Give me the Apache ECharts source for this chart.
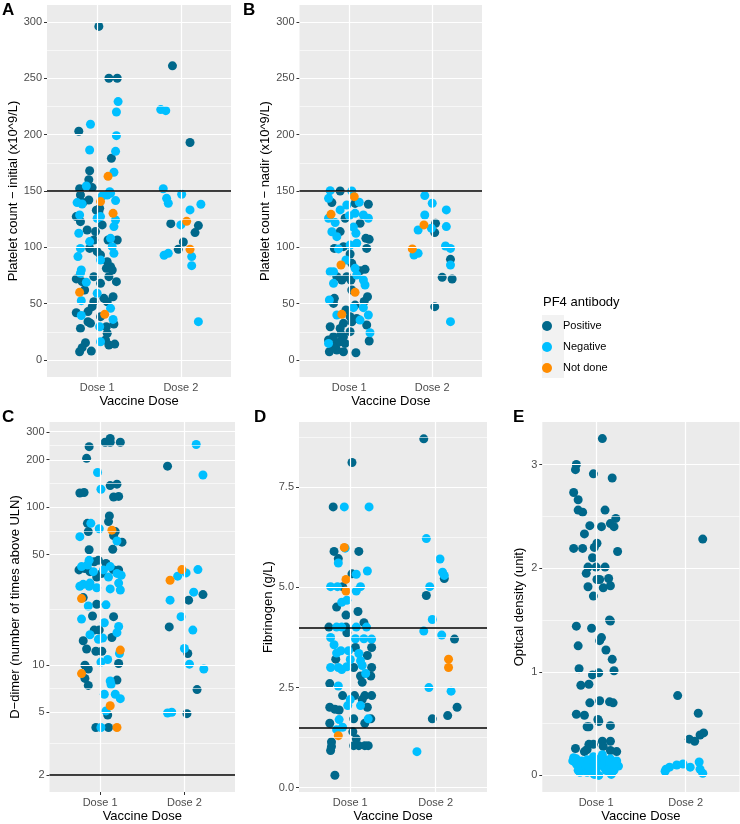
<!DOCTYPE html>
<html><head><meta charset="utf-8">
<script src="https://cdn.jsdelivr.net/npm/echarts@6/dist/echarts.min.js"></script>
<style>html,body{margin:0;padding:0;background:#fff}#c{width:740px;height:824px}</style>
</head><body><div id="c"></div>
<script>
// ---------- shared ----------
const doseLabels = ['Dose 1', 'Dose 2'];
const groups = ['Positive', 'Negative', 'Not done'];
const groupColors = ['#00688B', '#00BFFF', '#FF8C00'];

// ---------- Panel A: platelet count initial ----------
const aPositive = [[1.02,296],[1.90,261],[1.14,250],[1.24,250],[0.78,203],[2.11,193],[1.17,179],[0.91,168],[0.90,160],[0.79,152],[0.94,153],
 [0.80,146.5],[0.83,139.7],[0.90,142],[0.99,133],[1.03,134.6],[0.75,127.3],[0.80,122.8],[1.02,131.7],[0.88,115.4],[0.98,114],[1.06,119.9],[0.96,106.5],[1.13,106.5],[1.24,106.5],[0.91,99.1],[1.00,96.2],[1.04,93.2],[1.12,87.3],[1.16,82.9],[1.11,81.4],[1.18,79.9],[1.14,74],[0.75,72],[0.82,69.6],[0.96,74],[0.85,62.2],[1.04,68.1],[1.23,69.6],[1.08,54.8],[1.19,56.2],[1.12,51.8],[0.75,42],[0.89,43],[0.94,47.4],[0.96,51.8],[0.92,32.6],[1.04,38.5],[1.20,32],[0.80,28.1],[1.11,29.6],[1.12,23.7],[1.10,17.8],[1.14,13.4],[1.21,14.2],[0.86,15.4],[0.82,11],[0.79,7.4],[0.93,8],[0.89,34],
 [1.88,121],[2.21,119.3],[2.17,113.1],[2.03,104.8],[1.97,98.3]];
const aNegative = [[1.25,229.3],[1.23,220.1],[1.76,222.2],[1.82,221.3],[0.92,209.2],[1.23,199.1],[0.91,186.4],[1.22,185.2],[1.20,166.6],[0.87,154.4],[1.15,149.4],[1.79,152],
 [0.76,139.7],[0.82,138.5],[0.79,128.7],[1.06,145.6],[1.12,146.5],[1.16,148],[1.22,141.5],[1.04,127.3],[1.22,124.3],[0.78,112.5],[1.00,125.8],[1.20,118.4],[0.91,105.1],[1.16,108],[0.80,99.1],[0.77,91.8],[1.04,88.8],[1.18,100.6],[1.20,94.7],[0.81,79.9],[0.80,77],[0.87,69],[1.00,59.2],[0.81,52.7],[1.16,45.9],[0.81,39.6],[1.19,36.1],[1.03,29.6],[1.04,16.3],
 [1.83,143.5],[1.85,139.1],[2.01,147.1],[2.24,138.2],[2.11,133.2],[2.00,119.9],[1.85,94.7],[1.80,93],[2.13,91.8],[2.13,83.8],[2.21,34.1]];
const aNotDone = [[1.13,163],[1.04,140.6],[1.19,130.2],[0.79,60.1],[1.09,40.6],[2.07,123.1],[2.11,98.3]];
const aTicks = [0,50,100,150,200,250,300];
const aMinor = [25,75,125,175,225,275];
const aRefs = [150];

// ---------- Panel B: platelet count nadir ----------
const bPositive = [[0.89,150],[0.79,139.7],[1.07,139],[1.23,138.2],[0.95,125.8],[1.13,121.3],[0.89,114],[1.20,108],[1.24,107.1],[1.21,99.1],[0.82,99.1],[0.93,100.6],[1.01,94.1],[1.03,85.8],[0.85,74],[0.91,71],[0.97,74],[1.02,71],[1.13,79.3],[1.19,80.5],[1.03,62.2],[0.82,54.8],[1.22,56.2],[1.18,52],[0.81,50.3],[1.07,48.8],[0.96,44.4],[1.01,38.5],[1.09,37],[0.77,29.6],[0.93,32.6],[1.03,34],[1.21,31.1],[0.89,28.1],[1.01,25.2],[0.75,17.8],[0.81,20.8],[0.85,14.8],[0.93,20.8],[0.89,16.3],[1.24,16.9],[0.76,7.4],[0.93,7.4],[0.85,8.9],[1.08,6.5],[0.95,14.8],[0.80,12],[0.90,23],
 [2.04,121.3],[2.03,113.1],[2.22,89.4],[2.12,73.4],[2.24,71.9],[2.03,47.4]];
const bNegative = [[0.77,150.3],[1.03,150],[0.75,143.5],[0.89,133.2],[0.97,137.6],[0.75,125.8],[1.07,130.2],[1.17,128.7],[1.23,125.8],[0.79,113.9],[0.85,109.5],[1.08,112.5],[0.87,98.6],[1.01,102.1],[1.09,103.6],[0.96,88.8],[0.77,78.4],[0.81,78.4],[1.07,81.4],[1.09,75.5],[1.17,71],[0.81,68.1],[1.19,66.6],[0.76,53.3],[1.05,46.5],[1.17,46.5],[0.85,40],[1.23,40],[1.13,35.5],[1.25,24.3],[0.75,14.8],[1.00,128],[0.83,122],[1.05,118],[1.12,140],
 [1.91,145.9],[2.00,139.1],[2.17,133.2],[1.91,128.7],[1.83,115.4],[2.17,118.4],[1.99,117],[1.78,93.2],[1.83,94.7],[2.16,101.2],[2.22,99.1],[2.22,84.4],[2.22,34.1]];
const bNotDone = [[1.06,145],[0.78,129.3],[0.90,84.4],[1.07,60.1],[0.91,40.6],[1.90,119.9],[1.76,98.6]];
const bTicks = [0,50,100,150,200,250,300];
const bMinor = [25,75,125,175,225,275];
const bRefs = [150];

// ---------- Panel C: D-dimer (log scale) ----------
const cPositive = [[0.87,242],[1.12,273],[1.06,258],[1.12,258],[1.24,258],[0.84,204],[1.12,137],[1.20,140],[0.76,123],[0.81,124],[1.16,116],[1.22,117],[1.11,88],[1.10,81],[0.85,79],[0.86,70],[1.18,70],[1.16,66],[1.26,60],[1.15,54],[0.87,53.7],
 [0.75,40],[0.82,40.8],[0.88,39],[0.93,45],[0.98,46],[1.07,44],[1.16,40],[1.22,40],[1.02,38],[0.96,36],
 [0.80,26.7],[0.96,24.2],[1.16,20.2],[0.91,20.4],[0.93,16.6],[0.99,16.6],[1.14,14.9],[0.80,14.2],[0.84,12.6],[0.95,12.2],[1.02,12.2],[1.22,10.2],[0.82,9.95],[0.86,9.4],[0.82,8.2],[0.86,7.4],[1.20,8.0],[1.09,4.8],[0.95,4.0],[1.10,4.0],
 [1.80,182],[2.22,27.9],[2.05,25.7],[1.82,17.4],[2.04,11.8],[2.15,6.96],[2.03,4.9]];
const cNegative = [[0.97,166],[1.01,130],[0.89,79],[0.99,73],[0.76,65],[1.20,61],
 [0.78,42],[0.85,43],[0.87,46],[0.92,39],[1.04,40],[1.12,42],[1.20,38],[1.25,37],[1.10,36],[0.80,32.4],[0.88,33],
 [0.76,31.5],[0.87,31.5],[0.96,30.8],[1.12,30.3],[1.24,29.8],[1.22,33],[0.86,23.6],[1.07,24],[0.78,19.5],[1.05,18.5],[1.22,17.5],[0.88,15.5],[0.98,14.5],[1.03,14.8],[1.20,16],[1.23,11.8],[1.01,10.4],[1.09,10.8],[1.12,7.9],[1.13,7.5],[1.05,6.5],[1.18,6.5],[1.24,6.1],[1.07,5.1],[1.01,4.0],
 [2.14,250],[2.22,160],[1.92,36.5],[2.02,38.3],[2.16,40.2],[2.11,28.9],[1.83,25.7],[1.96,20.2],[2.10,16.6],[2.00,12.7],[2.06,10.1],[2.23,9.4],[1.80,4.95],[1.85,5.0]];
const cNotDone = [[1.14,71.5],[1.83,34.4],[1.97,40.2],[0.78,26.3],[1.24,12.4],[0.78,8.8],[1.12,5.5],[1.20,4.0]];
const cTicks = [2,5,10,50,100,200,300];
const cMinor = [3.16,7.07,22.4,70.7,141,245];
const cRefs = [2];

// ---------- Panel D: fibrinogen ----------
const dPositive = [[1.86,8.71],[1.02,8.12],[0.80,7.01],[0.81,5.90],[1.10,5.90],[0.86,5.72],[1.02,5.34],[2.10,5.22],[0.91,5.02],[1.89,4.80],[0.84,4.51],[0.95,4.31],[1.09,4.40],[1.16,4.12],[0.75,4.01],[0.95,4.01],[2.22,3.71],[0.96,3.87],[1.06,3.50],[1.25,3.50],[0.83,3.21],[1.20,3.30],[1.04,3.0],[1.25,3.0],[1.12,2.79],[1.24,2.79],[1.14,2.63],[0.76,2.60],[0.91,2.30],[1.05,2.30],[1.17,2.30],[1.25,2.30],[0.76,2.01],[1.20,2.01],[2.25,2.01],[0.87,1.94],[2.14,1.80],[1.96,1.72],[1.04,1.72],[1.24,1.72],[0.76,1.61],[1.17,1.61],[1.03,1.40],[1.07,1.22],[0.78,1.14],[0.78,1.03],[0.77,0.93],[1.04,1.05],[1.10,1.05],[1.17,1.05],[1.21,1.05],[0.82,0.31],[1.14,2.2],[0.82,1.96]];
const dNegative = [[0.93,7.01],[1.22,7.01],[1.89,6.22],[0.94,5.98],[0.86,5.61],[2.05,5.71],[1.07,5.33],[1.20,5.41],[2.08,5.38],[2.10,5.30],[0.77,5.02],[0.85,5.02],[1.12,5.02],[1.07,4.91],[1.93,5.02],[0.90,4.63],[0.96,4.68],[1.96,4.20],[0.84,4.01],[0.90,4.01],[1.07,4.01],[1.19,4.01],[1.86,3.91],[2.07,3.81],[0.77,3.75],[1.06,3.72],[1.16,3.72],[1.25,3.71],[0.81,3.57],[0.89,3.42],[0.98,3.42],[0.84,3.36],[1.10,3.35],[1.00,3.20],[1.12,3.17],[0.77,3.00],[0.86,3.00],[0.96,3.02],[1.14,3.05],[0.90,2.95],[0.86,2.54],[1.92,2.50],[2.18,2.41],[0.97,2.05],[1.12,2.05],[0.87,1.70],[1.21,1.72],[0.91,1.51],[0.84,1.45],[1.78,0.90],[1.00,2.2],[1.18,2.85]];
const dNotDone = [[0.93,6.0],[0.95,5.2],[0.95,4.91],[2.15,3.21],[2.15,3.00],[0.86,1.30]];
const dTicks = [0,2.5,5,7.5];
const dMinor = [1.25,3.75,6.25,8.75];
const dRefs = [4,1.5];

// ---------- Panel E: optical density ----------
const ePositive = [[1.07,3.25],[0.78,3.0],[0.77,2.95],[0.97,2.91],[1.18,2.87],[0.75,2.73],[0.80,2.66],[0.80,2.56],[0.85,2.54],[1.10,2.56],[1.22,2.48],[1.16,2.43],[1.20,2.40],[0.93,2.41],[1.06,2.40],[0.87,2.33],[0.75,2.19],[0.85,2.19],[1.01,2.24],[0.98,2.20],[1.24,2.16],[0.96,2.10],[0.91,2.01],[1.00,2.01],[1.10,2.01],[0.89,1.95],[1.01,1.89],[1.04,1.89],[1.14,1.90],[0.91,1.82],[1.08,1.81],[1.16,1.83],[0.97,1.73],
 [0.78,1.44],[0.95,1.42],[1.15,1.50],[1.16,1.49],[1.06,1.33],[1.04,1.30],[0.80,1.25],[1.11,1.21],[1.18,1.12],[0.81,1.03],[1.20,1.01],[1.03,0.99],[0.96,0.97],[0.83,0.87],[0.92,0.88],[0.93,0.70],[1.04,0.72],[1.15,0.71],[1.19,0.70],[0.78,0.59],[0.87,0.58],[1.02,0.54],[1.03,0.52],[0.90,0.47],[0.92,0.47],[1.16,0.48],[0.92,0.30],[1.07,0.33],[1.16,0.33],[0.77,0.26],[0.87,0.23],[0.97,0.30],[1.08,0.28],[1.23,0.23],[1.16,0.24],[0.90,0.25],
 [2.19,2.28],[1.91,0.77],[2.14,0.60],[2.04,0.35],[2.10,0.33],[2.16,0.39],[2.20,0.41]];
const eNegative = [[0.75,0.17],[0.78,0.11],[0.80,0.05],[0.84,0.14],[0.86,0.08],[0.90,0.03],[0.91,0.13],[0.95,0.10],[0.97,0.18],[1.00,0.06],[1.03,0.0],[1.04,0.14],[1.07,0.20],[1.09,0.08],[1.12,0.12],[1.14,0.04],[1.16,0.16],[1.19,0.10],[1.20,0.05],[1.23,0.14],[1.25,0.09],[0.81,0.12],[0.88,0.11],[0.93,0.14],[0.99,0.12],[1.01,0.15],[1.06,0.10],[1.10,0.15],[1.15,0.12],[0.74,0.14],[0.82,0.03],[0.93,0.06],[1.11,0.05],[1.21,0.11],[0.90,0.15],[0.98,0.01],[1.17,0.01],[0.78,0.16],
 [1.77,0.04],[1.82,0.08],[1.90,0.10],[1.97,0.11],[2.05,0.08],[2.15,0.13],[2.16,0.06],[2.19,0.02],[1.78,0.06]];
const eNotDone = [];
const eTicks = [0,1,2,3];
const eMinor = [0.5,1.5,2.5];
const eRefs = [];

// ---------- layout / styling ----------
const FONT = 'Liberation Sans, Arial, sans-serif';
const panels = [
  {letter:'A', letterPos:[2,2], grid:{left:47,top:5,width:184,height:372}, yMin:-15, yMax:315, log:false, fmt:v=>String(v),
   yTitle:'Platelet count \u2212 initial (x10^9/L)', nameGap:27, ticks:aTicks, minor:aMinor, refs:aRefs, sets:[aPositive,aNegative,aNotDone]},
  {letter:'B', letterPos:[243,2], grid:{left:299.5,top:5,width:182.5,height:372}, yMin:-15, yMax:315, log:false, fmt:v=>String(v),
   yTitle:'Platelet count \u2212 nadir (x10^9/L)', nameGap:28, ticks:bTicks, minor:bMinor, refs:bRefs, sets:[bPositive,bNegative,bNotDone]},
  {letter:'C', letterPos:[2,409], grid:{left:49.5,top:422,width:185.5,height:371}, yMin:Math.log10(1.56), yMax:Math.log10(347), log:true, fmt:v=>String(Math.round(Math.pow(10,v))),
   yTitle:'D\u2212dimer (number of times above ULN)', nameGap:25, ticks:cTicks, minor:cMinor, refs:cRefs, sets:[cPositive,cNegative,cNotDone]},
  {letter:'D', letterPos:[254,409], grid:{left:299,top:422,width:188,height:371}, yMin:-0.107, yMax:9.13, log:false, fmt:v=>v.toFixed(1),
   yTitle:'Fibrinogen (g/L)', nameGap:23, ticks:dTicks, minor:dMinor, refs:dRefs, sets:[dPositive,dNegative,dNotDone]},
  {letter:'E', letterPos:[513,409], grid:{left:542.3,top:422,width:197.2,height:371}, yMin:-0.16, yMax:3.41, log:false, fmt:v=>String(v),
   yTitle:'Optical density (unit)', nameGap:16, ticks:eTicks, minor:eMinor, refs:eRefs, sets:[ePositive,eNegative,eNotDone]}
];

const tf = (p, v) => p.log ? Math.log10(v) : v;

const grids = [], xAxes = [], yAxes = [], series = [], graphics = [];
panels.forEach((p, i) => {
  grids.push(Object.assign({show:true, backgroundColor:'#EBEBEB', borderWidth:0, containLabel:false}, p.grid));
  xAxes.push({type:'value', gridIndex:i, min:0.4, max:2.6,
    name:'Vaccine Dose', nameLocation:'middle', nameGap:18,
    nameTextStyle:{color:'#000', fontSize:13, fontFamily:FONT},
    axisLine:{show:false}, splitLine:{show:false},
    axisTick:{show:true, length:3, customValues:[1,2], lineStyle:{color:'#333', width:1}},
    axisLabel:{customValues:[1,2], margin:5, color:'#4D4D4D', fontSize:11, fontFamily:FONT, formatter:v=>doseLabels[Math.round(v)-1]}
  });
  const tv = p.ticks.map(v => tf(p, v));
  yAxes.push({type:'value', gridIndex:i, min:p.yMin, max:p.yMax,
    name:p.yTitle, nameLocation:'middle', nameGap:p.nameGap,
    nameTextStyle:{color:'#000', fontSize:13, fontFamily:FONT},
    axisLine:{show:false}, splitLine:{show:false},
    axisTick:{show:true, length:3, customValues:tv, lineStyle:{color:'#333', width:1}},
    axisLabel:{customValues:tv, margin:5, color:'#4D4D4D', fontSize:11, fontFamily:FONT, formatter:p.fmt}
  });
  const lineSeries = (vals, axis, color, width, z) => ({
    type:'line', xAxisIndex:i, yAxisIndex:i, data:[], z:z, silent:true, animation:false,
    markLine:{silent:true, symbol:['none','none'], label:{show:false}, animation:false,
      emphasis:{disabled:true}, lineStyle:{color:color, width:width, type:'solid'},
      data: vals.map(v => ({[axis]: v}))}
  });
  series.push(lineSeries(p.minor.map(v => tf(p, v)), 'yAxis', '#FFFFFF', 0.6, 1));
  series.push(lineSeries(tv, 'yAxis', '#FFFFFF', 1.2, 1));
  series.push(lineSeries([1,2], 'xAxis', '#FFFFFF', 1.2, 1));
  p.sets.forEach((set, g) => {
    series.push({type:'scatter', name:groups[g], xAxisIndex:i, yAxisIndex:i, z:2,
      symbol:'circle', symbolSize:9, animation:false,
      itemStyle:{color:groupColors[g], opacity:1},
      data: set.map(d => [d[0], tf(p, d[1])])});
  });
  if (p.refs.length) series.push(lineSeries(p.refs.map(v => tf(p, v)), 'yAxis', '#000000', 1.5, 5));
  graphics.push({type:'text', left:p.letterPos[0], top:p.letterPos[1],
    style:{text:p.letter, font:'bold 17px ' + FONT, fill:'#000'}});
});

graphics.push({type:'rect', left:542, top:315, shape:{width:22, height:63}, style:{fill:'#F2F2F2'}, z:0});
graphics.push({type:'text', left:543, top:296, style:{text:'PF4 antibody', font:'13px ' + FONT, fill:'#000'}});

const chart = echarts.init(document.getElementById('c'), null, {renderer:'canvas'});
chart.setOption({
  animation:false,
  backgroundColor:'#FFFFFF',
  grid:grids, xAxis:xAxes, yAxis:yAxes, series:series,
  graphic:graphics,
  legend:{data:groups, orient:'vertical', left:542, top:320.5, padding:0, itemWidth:22, itemHeight:10, itemGap:10,
    icon:'circle', selectedMode:false, textStyle:{fontSize:11, color:'#000', fontFamily:FONT}, z:5}
});
</script>
</body></html>
